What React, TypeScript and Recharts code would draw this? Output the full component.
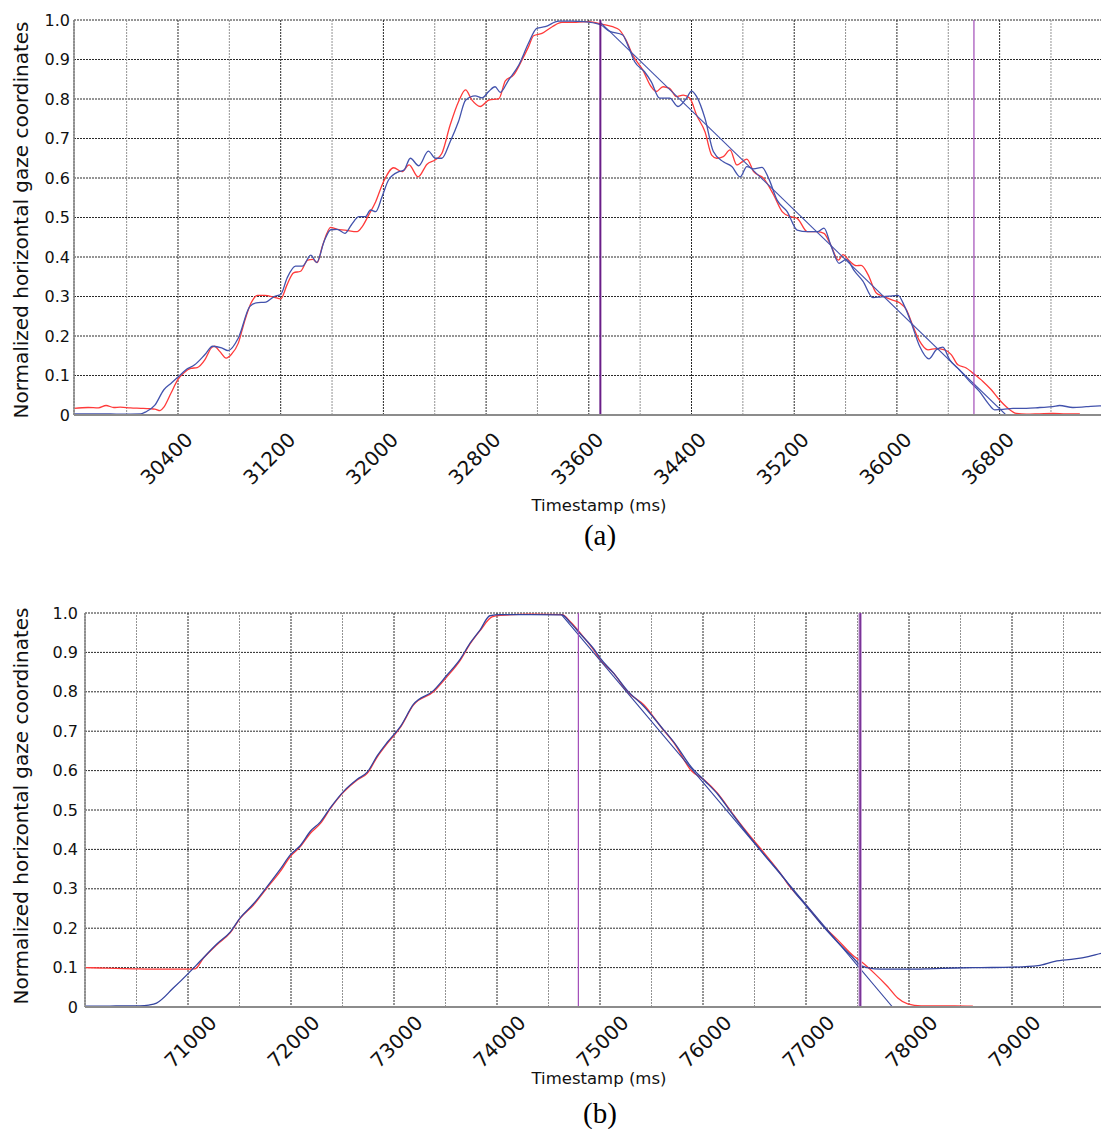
import React from "react";
import {
  LineChart,
  Line,
  XAxis,
  YAxis,
  CartesianGrid,
  ReferenceLine,
} from "recharts";

// ---- panel (a): timestamps in ms, normalized horizontal gaze ----
const redA: [number, number][] = [
  [29590, 0.017], [29700, 0.019], [29780, 0.018], [29840, 0.024], [29900, 0.019],
  [29950, 0.02], [30030, 0.018], [30110, 0.017], [30180, 0.016], [30220, 0.015],
  [30260, 0.011], [30290, 0.02], [30345, 0.055], [30400, 0.09], [30447, 0.107],
  [30500, 0.118], [30550, 0.12], [30610, 0.14], [30660, 0.17], [30685, 0.174],
  [30725, 0.161], [30775, 0.144], [30815, 0.153], [30870, 0.182], [30915, 0.233],
  [30970, 0.284], [31020, 0.303], [31075, 0.303], [31150, 0.298], [31200, 0.294],
  [31250, 0.33], [31300, 0.36], [31355, 0.364], [31410, 0.392], [31450, 0.394],
  [31485, 0.386], [31525, 0.428], [31590, 0.475], [31640, 0.47], [31700, 0.468],
  [31795, 0.464], [31835, 0.477], [31885, 0.506], [31940, 0.54], [32000, 0.59],
  [32080, 0.626], [32145, 0.616], [32200, 0.633], [32270, 0.603], [32340, 0.635],
  [32405, 0.646], [32455, 0.662], [32520, 0.734], [32585, 0.793], [32640, 0.823],
  [32690, 0.797], [32755, 0.781], [32820, 0.797], [32900, 0.801], [32950, 0.846],
  [33015, 0.861], [33080, 0.899], [33130, 0.932], [33170, 0.96], [33235, 0.966],
  [33315, 0.983], [33390, 0.994], [33500, 0.994], [33600, 0.996], [33707, 0.989],
  [33785, 0.983], [33838, 0.975], [33890, 0.949], [33942, 0.911], [34021, 0.873],
  [34086, 0.831], [34125, 0.819], [34178, 0.831], [34230, 0.827], [34282, 0.806],
  [34335, 0.81], [34387, 0.802], [34440, 0.759], [34505, 0.717], [34557, 0.658],
  [34596, 0.65], [34648, 0.654], [34700, 0.671], [34753, 0.633], [34831, 0.648],
  [34884, 0.616], [34962, 0.599], [35040, 0.557], [35106, 0.515], [35171, 0.502],
  [35223, 0.498], [35302, 0.464], [35380, 0.464], [35432, 0.46], [35485, 0.43],
  [35545, 0.392], [35580, 0.406], [35630, 0.39], [35683, 0.378], [35722, 0.379],
  [35774, 0.356], [35839, 0.309], [35891, 0.301], [35956, 0.292], [36021, 0.284],
  [36073, 0.267], [36125, 0.225], [36177, 0.187], [36242, 0.165], [36306, 0.168],
  [36371, 0.165], [36423, 0.153], [36475, 0.127], [36540, 0.119], [36592, 0.106],
  [36670, 0.085], [36735, 0.064], [36800, 0.038], [36865, 0.017], [36930, 0.004],
  [37008, 0.002], [37112, 0.003], [37215, 0.004], [37319, 0.003], [37425, 0.003],
];

const blueA: [number, number][] = [
  [29590, 0.003], [29800, 0.003], [29950, 0.002], [30110, 0.003], [30150, 0.008],
  [30220, 0.025], [30290, 0.064], [30345, 0.08], [30400, 0.096], [30460, 0.114],
  [30530, 0.127], [30610, 0.153], [30670, 0.174], [30740, 0.17], [30790, 0.163],
  [30870, 0.195], [30960, 0.275], [31010, 0.284], [31085, 0.286], [31150, 0.3],
  [31200, 0.305], [31250, 0.347], [31315, 0.377], [31370, 0.377], [31435, 0.405],
  [31480, 0.386], [31540, 0.441], [31590, 0.469], [31640, 0.47], [31700, 0.46],
  [31750, 0.481], [31810, 0.502], [31860, 0.502], [31900, 0.519], [31940, 0.515],
  [31990, 0.553], [32040, 0.595], [32120, 0.616], [32160, 0.62], [32210, 0.65],
  [32275, 0.631], [32350, 0.668], [32405, 0.65], [32455, 0.65], [32520, 0.692],
  [32585, 0.743], [32640, 0.797], [32715, 0.808], [32770, 0.803], [32820, 0.819],
  [32870, 0.831], [32910, 0.817], [32975, 0.848], [33055, 0.886], [33130, 0.941],
  [33195, 0.979], [33260, 0.983], [33365, 0.997], [33470, 0.997], [33560, 0.996],
  [33690, 0.988], [33760, 0.972], [33864, 0.962], [33903, 0.937], [33956, 0.895],
  [34034, 0.869], [34086, 0.844], [34152, 0.802], [34230, 0.802], [34295, 0.781],
  [34361, 0.802], [34400, 0.82], [34440, 0.806], [34505, 0.751], [34570, 0.667],
  [34648, 0.641], [34714, 0.629], [34779, 0.603], [34831, 0.629], [34884, 0.623],
  [34949, 0.627], [35001, 0.599], [35067, 0.544], [35145, 0.515], [35223, 0.468],
  [35302, 0.464], [35380, 0.464], [35432, 0.473], [35485, 0.43], [35550, 0.384],
  [35605, 0.394], [35670, 0.364], [35735, 0.339], [35813, 0.297], [35878, 0.299],
  [35943, 0.301], [36008, 0.303], [36060, 0.275], [36112, 0.233], [36177, 0.174],
  [36249, 0.142], [36306, 0.165], [36358, 0.172], [36410, 0.14], [36488, 0.114],
  [36566, 0.085], [36644, 0.059], [36709, 0.03], [36761, 0.013], [36826, 0.014],
  [36904, 0.017], [37008, 0.017], [37112, 0.019], [37215, 0.021], [37267, 0.024],
  [37371, 0.019], [37475, 0.021], [37579, 0.023], [37700, 0.022], [37800, 0.024],
];

// straight descent fit
const fitA: [number, number][] = [[33690, 0.994], [36850, 0]];

const xMajorA = [30400, 31200, 32000, 32800, 33600, 34400, 35200, 36000, 36800];
const xMinorA = [30000, 30800, 31600, 32400, 33200, 34000, 34800, 35600, 36400, 37200];
const thickMarkA = 33690;
const thinMarkA = 36600;

// ---- panel (b) ----
const redB: [number, number][] = [
  [70000, 0.1], [70150, 0.099], [70300, 0.098], [70468, 0.097], [70650, 0.096],
  [70792, 0.096], [70950, 0.096], [71068, 0.097], [71150, 0.124], [71280, 0.158],
  [71409, 0.188], [71506, 0.225], [71636, 0.259], [71766, 0.302], [71896, 0.344],
  [71993, 0.382], [72091, 0.407], [72188, 0.441], [72286, 0.466], [72383, 0.504],
  [72513, 0.546], [72643, 0.576], [72740, 0.593], [72838, 0.635], [72935, 0.669],
  [73065, 0.711], [73188, 0.766], [73383, 0.8], [73513, 0.838], [73643, 0.88],
  [73740, 0.922], [73838, 0.956], [73951, 0.99], [74032, 0.994], [74325, 0.997],
  [74633, 0.996], [74714, 0.977], [74812, 0.948], [74942, 0.905], [75006, 0.88],
  [75136, 0.846], [75266, 0.8], [75429, 0.766], [75591, 0.711], [75721, 0.669],
  [75883, 0.601], [76013, 0.576], [76143, 0.542], [76273, 0.496], [76435, 0.441],
  [76597, 0.39], [76760, 0.336], [76818, 0.314], [77000, 0.259], [77143, 0.213],
  [77305, 0.171], [77468, 0.128], [77532, 0.116], [77662, 0.086], [77792, 0.052],
  [77890, 0.023], [77987, 0.008], [78117, 0.003], [78300, 0.003], [78442, 0.003],
  [78620, 0.002],
];

const blueB: [number, number][] = [
  [70000, 0.002], [70200, 0.002], [70400, 0.003], [70532, 0.003], [70620, 0.005],
  [70695, 0.01], [70857, 0.048], [71006, 0.086], [71117, 0.116], [71280, 0.16],
  [71409, 0.19], [71506, 0.226], [71636, 0.262], [71766, 0.305], [71896, 0.35],
  [71993, 0.386], [72091, 0.41], [72188, 0.446], [72286, 0.47], [72383, 0.506],
  [72513, 0.548], [72643, 0.578], [72740, 0.596], [72838, 0.638], [72935, 0.672],
  [73065, 0.713], [73188, 0.768], [73383, 0.803], [73513, 0.842], [73643, 0.883],
  [73740, 0.924], [73838, 0.958], [73930, 0.993], [74032, 0.996], [74325, 0.996],
  [74628, 0.995], [74714, 0.975], [74812, 0.946], [74942, 0.908], [75006, 0.884],
  [75136, 0.846], [75266, 0.803], [75429, 0.762], [75591, 0.712], [75721, 0.671],
  [75883, 0.61], [76013, 0.575], [76143, 0.54], [76273, 0.494], [76435, 0.438],
  [76597, 0.386], [76760, 0.336], [76900, 0.288], [77000, 0.257], [77143, 0.212],
  [77305, 0.165], [77468, 0.122], [77532, 0.105], [77662, 0.097], [77800, 0.096],
  [78000, 0.096], [78200, 0.097], [78442, 0.099], [78700, 0.1], [79000, 0.101],
  [79253, 0.105], [79416, 0.116], [79610, 0.122], [79740, 0.128], [79880, 0.137],
  [80000, 0.142],
];

const fitB: [number, number][] = [[74628, 0.995], [77840, 0]];

const xMajorB = [71000, 72000, 73000, 74000, 75000, 76000, 77000, 78000, 79000];
const xMinorB = [70500, 71500, 72500, 73500, 74500, 75500, 76500, 77500, 78500, 79500];
const thinMarkB = 74790;
const thickMarkB = 77526;

const yTicks = [0, 0.1, 0.2, 0.3, 0.4, 0.5, 0.6, 0.7, 0.8, 0.9, 1];
const yTickLabels = ["0", "0.1", "0.2", "0.3", "0.4", "0.5", "0.6", "0.7", "0.8", "0.9", "1.0"];

const FONT = "DejaVu Sans";
const RED = "#ff3a3a";

const toPts = (arr: [number, number][]) => arr.map(([t, v]) => ({ t, v }));

const makeXTick = (dx: number, dy: number) => (props: any) => {
  const { x, y, payload } = props;
  const px = x + dx;
  const py = y + dy;
  return (
    <text
      x={px}
      y={py}
      transform={`rotate(-45 ${px} ${py})`}
      textAnchor="end"
      fontSize={20}
      fontFamily={FONT}
      fill="#111"
    >
      {payload.value}
    </text>
  );
};

type PanelProps = {
  red: [number, number][];
  blue: [number, number][];
  fit: [number, number][];
  domain: [number, number];
  majors: number[];
  minors: number[];
  width: number;
  height: number;
  top: number;
  axisWidth: number;
  xAxisHeight: number;
  tickDx: number;
  tickDy: number;
  yTickMargin: number;
  blueColor: string;
  thin: number;
  thick: number;
  thickHalo: boolean;
};

const Panel = (p: PanelProps) => (
  <LineChart
    width={p.width}
    height={p.height}
    margin={{ top: p.top, right: 0, bottom: 0, left: 0 }}
  >
    <CartesianGrid stroke="#2a2a2a" strokeDasharray="2 1" />
    <XAxis
      type="number"
      dataKey="t"
      domain={p.domain}
      ticks={p.majors}
      interval={0}
      allowDataOverflow
      height={p.xAxisHeight}
      tickSize={0}
      tickMargin={0}
      tick={makeXTick(p.tickDx, p.tickDy)}
      axisLine={{ stroke: "#8c8c8c", strokeWidth: 2 }}
    />
    <YAxis
      type="number"
      domain={[0, 1]}
      ticks={yTicks}
      interval={0}
      allowDataOverflow
      width={p.axisWidth}
      tickSize={0}
      tickMargin={p.yTickMargin}
      tickFormatter={(v: number) => yTickLabels[Math.round(v * 10)]}
      tick={{ fontSize: 16, fill: "#111", fontFamily: FONT }}
      axisLine={{ stroke: "#8c8c8c", strokeWidth: 1.5 }}
    />
    {p.minors.map((m) => (
      <ReferenceLine key={m} x={m} stroke="#939393" strokeDasharray="2 1" />
    ))}
    <Line
      data={toPts(p.red)}
      dataKey="v"
      type="monotone"
      stroke={RED}
      strokeWidth={1.3}
      dot={false}
      isAnimationActive={false}
    />
    <Line
      data={toPts(p.blue)}
      dataKey="v"
      type="monotone"
      stroke={p.blueColor}
      strokeWidth={1.3}
      dot={false}
      isAnimationActive={false}
    />
    <Line
      data={toPts(p.fit)}
      dataKey="v"
      type="linear"
      stroke={p.blueColor}
      strokeWidth={1.1}
      dot={false}
      isAnimationActive={false}
    />
    <ReferenceLine x={p.thin} stroke="#a24cb8" strokeWidth={1.2} />
    {p.thickHalo && (
      <ReferenceLine x={p.thick} stroke="#c6a0d8" strokeWidth={3.5} />
    )}
    <ReferenceLine
      x={p.thick}
      stroke="#6a1e88"
      strokeWidth={p.thickHalo ? 1.3 : 2}
    />
  </LineChart>
);

const yTitle = "Normalized horizontal gaze coordinates";
const xTitle = "Timestamp (ms)";

export default function App() {
  return (
    <div
      style={{
        position: "absolute",
        left: 0,
        top: 0,
        width: 1101,
        height: 1129,
        overflow: "hidden",
        background: "#fff",
      }}
    >
      <div style={{ position: "absolute", left: 0, top: 0 }}>
        <Panel
          red={redA}
          blue={blueA}
          fit={fitA}
          domain={[29590, 37800]}
          majors={xMajorA}
          minors={xMinorA}
          width={1128}
          height={550}
          top={20}
          axisWidth={74}
          xAxisHeight={135}
          tickDx={16}
          tickDy={26}
          yTickMargin={4}
          blueColor="#4353ad"
          thin={thinMarkA}
          thick={thickMarkA}
          thickHalo={false}
        />
      </div>
      <div style={{ position: "absolute", left: 0, top: 590 }}>
        <Panel
          red={redB}
          blue={blueB}
          fit={fitB}
          domain={[70000, 80000]}
          majors={xMajorB}
          minors={xMinorB}
          width={1115}
          height={517}
          top={23}
          axisWidth={85}
          xAxisHeight={100}
          tickDx={30}
          tickDy={17}
          yTickMargin={7}
          blueColor="#34449f"
          thin={thinMarkB}
          thick={thickMarkB}
          thickHalo={true}
        />
      </div>
      <svg
        width={1101}
        height={1129}
        style={{ position: "absolute", left: 0, top: 0, pointerEvents: "none" }}
      >
        <text
          x={28}
          y={220}
          transform="rotate(-90 28 220)"
          textAnchor="middle"
          fontSize={20}
          fontFamily={FONT}
          fill="#111"
        >
          {yTitle}
        </text>
        <text
          x={28}
          y={806}
          transform="rotate(-90 28 806)"
          textAnchor="middle"
          fontSize={20}
          fontFamily={FONT}
          fill="#111"
        >
          {yTitle}
        </text>
        <text x={599} y={511} textAnchor="middle" fontSize={16.5} fontFamily={FONT} fill="#111">
          {xTitle}
        </text>
        <text x={599} y={1084} textAnchor="middle" fontSize={16.5} fontFamily={FONT} fill="#111">
          {xTitle}
        </text>
        <text x={600} y={545} textAnchor="middle" fontSize={29} fontFamily="Liberation Serif" fill="#000">
          (a)
        </text>
        <text x={600} y={1123} textAnchor="middle" fontSize={29} fontFamily="Liberation Serif" fill="#000">
          (b)
        </text>
      </svg>
    </div>
  );
}
